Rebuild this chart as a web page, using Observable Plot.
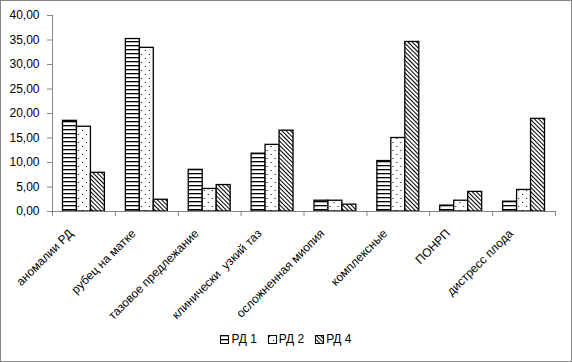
<!DOCTYPE html>
<html>
<head>
<meta charset="utf-8">
<script src="https://cdn.jsdelivr.net/npm/d3@7"></script>
<script src="https://cdn.jsdelivr.net/npm/@observablehq/plot@0.6"></script>
<style>
  body { margin: 0; background: #fff; }
  #chart { position: absolute; left: 0; top: 0; width: 572px; height: 362px; box-sizing: border-box; border: 1px solid #868686; background: #fff; font-family: "Liberation Sans", Arial, sans-serif; }
  #legend { position: absolute; left: 0; right: 0; top: 331px; display: flex; justify-content: center; gap: 11px; font-size: 12px; color: #000; }
  #legend .item { display: flex; align-items: center; gap: 2px; }
</style>
</head>
<body>
<svg width="0" height="0" style="position:absolute">
  <defs>
    <pattern id="p1" patternUnits="userSpaceOnUse" width="4" height="4">
      <rect width="4" height="4" fill="#fff"/>
      <rect y="0" width="4" height="1.3" fill="#000"/>
    </pattern>
    <pattern id="p2" patternUnits="userSpaceOnUse" width="8" height="8">
      <rect width="8" height="8" fill="#fff"/>
      <rect x="1" y="1" width="1" height="1" fill="#000"/>
      <rect x="5" y="5" width="1" height="1" fill="#000"/>
    </pattern>
    <pattern id="p4" patternUnits="userSpaceOnUse" width="3" height="3" patternTransform="rotate(-45)">
      <rect width="3" height="3" fill="#fff"/>
      <rect x="0" y="0" width="1" height="3" fill="#000"/>
    </pattern>
  </defs>
</svg>
<div id="chart"></div>
<script>
const categories = ["аномалии РД", "рубец на матке", "тазовое предлежание", "клинически  узкий таз", "осложненная миопия", "комплексные", "ПОНРП", "дистресс плода"];
const seriesNames = ["РД 1", "РД 2", "РД 4"];
const rd1 = [18.5, 35.2, 8.5, 11.8, 2.2, 10.3, 1.2, 2.0];
const rd2 = [17.3, 33.4, 4.6, 13.6, 2.2, 15.0, 2.2, 4.4];
const rd4 = [7.9, 2.4, 5.4, 16.5, 1.4, 34.6, 4.0, 18.9];
const yTicks = [0, 5, 10, 15, 20, 25, 30, 35, 40];
const patterns = ["url(#p1)", "url(#p2)", "url(#p4)"];

const seriesValues = [rd1, rd2, rd4];
const data = [];
categories.forEach((c, i) => seriesNames.forEach((s, j) => data.push({cat: c, series: s, value: seriesValues[j][i]})));

const W = 570, H = 320, mL = 51, mR = 16, mT = 14, mB = 110;
const step = (W - mL - mR) / categories.length;
const gray = "#868686";

const chart = Plot.plot({
  width: W, height: H,
  marginLeft: mL, marginRight: mR, marginTop: mT, marginBottom: mB,
  style: {fontFamily: "Liberation Sans, Arial, sans-serif", fontSize: "12px", background: "transparent", color: "#000"},
  fx: {domain: categories, padding: 0, round: false, label: null},
  x: {domain: seriesNames, paddingInner: 0, paddingOuter: 0.75, round: false, axis: null},
  y: {domain: [0, 40], label: null},
  color: {type: "ordinal", domain: seriesNames, range: patterns},
  marks: [
    Plot.barY(data, {fx: "cat", x: "series", y: "value", fill: "series", stroke: "#000", strokeWidth: 1.3}),
    Plot.axisY({ticks: yTicks, tickSize: 5, tickPadding: 8, stroke: gray, tickFormat: d => d.toFixed(2).replace(".", ","), label: null}),
    Plot.gridFx({ticks: [categories[0]], dx: -step / 2, stroke: gray, strokeOpacity: 1}),
    Plot.ruleY([0], {stroke: gray}),
    Plot.axisFx({anchor: "bottom", tickSize: 5, text: null, dx: -step / 2, stroke: gray, label: null}),
    Plot.axisFx({anchor: "bottom", ticks: [categories[categories.length - 1]], tickSize: 5, text: null, dx: step / 2, stroke: gray, label: null}),
    Plot.axisFx({anchor: "bottom", tickSize: 0, tickRotate: -45, tickPadding: 20, dx: -13, label: null})
  ]
});
document.getElementById("chart").appendChild(chart);

const legend = document.createElement("div");
legend.id = "legend";
seriesNames.forEach((s, j) => {
  const item = document.createElement("div");
  item.className = "item";
  item.innerHTML = `<svg width="9" height="9"><rect x="0.5" y="0.5" width="8" height="8" fill="${patterns[j]}" stroke="#000" stroke-width="1"/></svg><span>${s}</span>`;
  legend.appendChild(item);
});
document.getElementById("chart").appendChild(legend);
</script>
</body>
</html>
